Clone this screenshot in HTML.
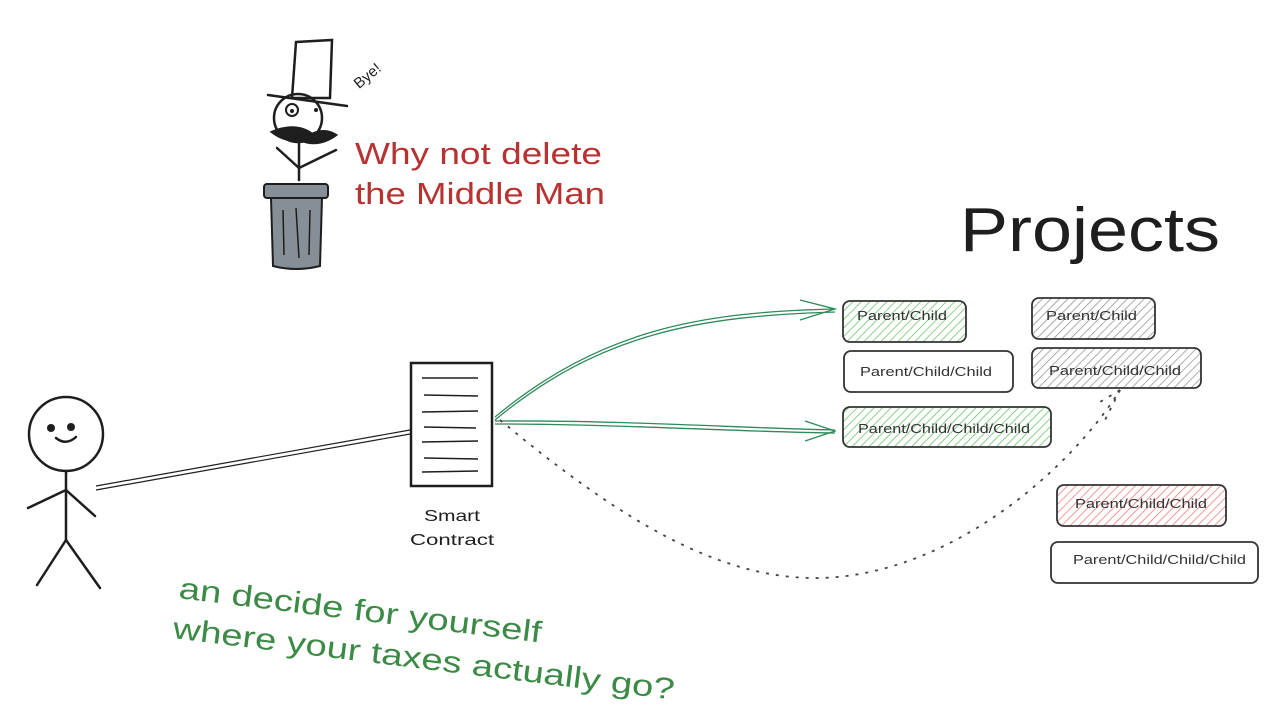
<!DOCTYPE html>
<html><head><style>
html,body{margin:0;padding:0;background:#fff;}
svg text{font-family:"Liberation Sans",sans-serif;}
</style></head><body>
<svg width="1278" height="716" viewBox="0 0 1278 716" xmlns="http://www.w3.org/2000/svg">
<defs>
<pattern id="hg" width="6" height="6" patternUnits="userSpaceOnUse" patternTransform="rotate(45)"><line x1="0" y1="0" x2="0" y2="6" stroke="#6cc46f" stroke-width="1.6"/></pattern>
<pattern id="hk" width="6" height="6" patternUnits="userSpaceOnUse" patternTransform="rotate(45)"><line x1="0" y1="0" x2="0" y2="6" stroke="#999" stroke-width="1.6"/></pattern>
<pattern id="hr" width="6" height="6" patternUnits="userSpaceOnUse" patternTransform="rotate(45)"><line x1="0" y1="0" x2="0" y2="6" stroke="#f08080" stroke-width="1.6"/></pattern>
</defs>
<g fill="none" stroke="#1e1e1e" stroke-width="2.5" stroke-linecap="round">
<path d="M296 42 L332 40 L330 98 L292 98 Z"/>
<line x1="268" y1="95" x2="347" y2="106"/>
<circle cx="298" cy="118" r="24"/>
<path d="M272 132 Q296 122 312 134 Q325 128 336 135 Q318 148 300 140 Q285 142 272 132Z" fill="#1e1e1e"/>
<line x1="299" y1="142" x2="299" y2="180"/>
<line x1="277" y1="148" x2="299" y2="168"/>
<line x1="299" y1="168" x2="336" y2="150"/>
</g>
<circle cx="292" cy="110" r="6" fill="none" stroke="#1e1e1e" stroke-width="2"/>
<circle cx="292" cy="111" r="2" fill="#1e1e1e"/>
<circle cx="316" cy="110" r="2" fill="#1e1e1e"/>
<rect x="264" y="184" width="64" height="14" rx="3" fill="#868e96" stroke="#1e1e1e" stroke-width="2"/>
<path d="M271 198 L322 198 L320 266 Q296 272 273 266 Z" fill="#868e96" stroke="#1e1e1e" stroke-width="2"/>
<g stroke="#1e1e1e" stroke-width="1.5"><line x1="283" y1="210" x2="284" y2="255"/><line x1="296" y1="208" x2="299" y2="258"/><line x1="310" y1="210" x2="309" y2="255"/></g>
<text x="352" y="86" font-size="15" fill="#1e1e1e" transform="rotate(-40 360 78)">Bye!</text>
<text x="355" y="164" font-size="31" fill="#b83232" textLength="247" lengthAdjust="spacingAndGlyphs">Why not delete</text>
<text x="355" y="204" font-size="31" fill="#b83232" textLength="250" lengthAdjust="spacingAndGlyphs">the Middle Man</text>
<text x="960" y="251" font-size="62" fill="#1e1e1e" textLength="260" lengthAdjust="spacingAndGlyphs">Projects</text>
<g fill="none" stroke="#1e1e1e" stroke-width="2.5" stroke-linecap="round">
<circle cx="66" cy="434" r="37"/>
<path d="M56 438 Q66 446 76 437"/>
<line x1="66" y1="471" x2="66" y2="540"/>
<line x1="66" y1="490" x2="28" y2="508"/>
<line x1="66" y1="490" x2="95" y2="516"/>
<line x1="66" y1="540" x2="37" y2="585"/>
<line x1="66" y1="540" x2="100" y2="588"/>
</g>
<circle cx="51" cy="428" r="4" fill="#1e1e1e"/><circle cx="71" cy="427" r="4" fill="#1e1e1e"/>
<line x1="96" y1="486" x2="410" y2="430" stroke="#1e1e1e" stroke-width="1.2"/>
<line x1="96" y1="490" x2="410" y2="434" stroke="#1e1e1e" stroke-width="1.2"/>
<rect x="411" y="363" width="81" height="123" fill="#fff" stroke="#1e1e1e" stroke-width="2.5"/>
<g stroke="#1e1e1e" stroke-width="1.5"><line x1="422" y1="378" x2="478" y2="378"/><line x1="424" y1="395" x2="478" y2="396"/><line x1="422" y1="412" x2="478" y2="411"/><line x1="424" y1="427" x2="476" y2="428"/><line x1="422" y1="442" x2="478" y2="441"/><line x1="424" y1="458" x2="478" y2="459"/><line x1="422" y1="472" x2="478" y2="471"/></g>
<text x="452" y="521" font-size="16" text-anchor="middle" fill="#1e1e1e" textLength="56" lengthAdjust="spacingAndGlyphs">Smart</text>
<text x="452" y="545" font-size="16" text-anchor="middle" fill="#1e1e1e" textLength="84" lengthAdjust="spacingAndGlyphs">Contract</text>
<g fill="none" stroke="#2f8a5a" stroke-width="1.3">
<path d="M495 417 C600 330 700 312 835 309"/><path d="M495 420 C600 333 700 316 835 312"/>
<path d="M800 300 L835 309 L800 320"/>
<path d="M495 421 C620 420 740 428 835 430"/><path d="M495 424 C620 424 740 432 835 433"/>
<path d="M805 421 L835 431 L805 441"/>
</g>
<path d="M500 420 C620 520 720 580 820 578 C950 575 1070 470 1120 390" fill="none" stroke="#444" stroke-width="1.8" stroke-dasharray="3 7"/>
<path d="M1120 390 L1095 405 M1120 390 L1105 420" fill="none" stroke="#444" stroke-width="1.8" stroke-dasharray="3 7"/>
<g stroke="#333" stroke-width="1.8">
<rect x="843" y="301" width="123" height="41" rx="7" fill="url(#hg)"/>
<rect x="844" y="351" width="169" height="41" rx="7" fill="#fff"/>
<rect x="843" y="407" width="208" height="40" rx="7" fill="url(#hg)"/>
<rect x="1032" y="298" width="123" height="41" rx="7" fill="url(#hk)"/>
<rect x="1032" y="348" width="169" height="40" rx="7" fill="url(#hk)"/>
<rect x="1057" y="485" width="169" height="41" rx="7" fill="url(#hr)"/>
<rect x="1051" y="542" width="207" height="41" rx="7" fill="#fff"/>
</g>
<g font-size="13" fill="#333" stroke="none" lengthAdjust="spacingAndGlyphs">
<text x="857" y="320" textLength="90" lengthAdjust="spacingAndGlyphs">Parent/Child</text>
<text x="860" y="376" textLength="132" lengthAdjust="spacingAndGlyphs">Parent/Child/Child</text>
<text x="858" y="433" textLength="172" lengthAdjust="spacingAndGlyphs">Parent/Child/Child/Child</text>
<text x="1046" y="320" textLength="91" lengthAdjust="spacingAndGlyphs">Parent/Child</text>
<text x="1049" y="375" textLength="132" lengthAdjust="spacingAndGlyphs">Parent/Child/Child</text>
<text x="1075" y="508" textLength="132" lengthAdjust="spacingAndGlyphs">Parent/Child/Child</text>
<text x="1073" y="564" textLength="173" lengthAdjust="spacingAndGlyphs">Parent/Child/Child/Child</text>
</g>
<g fill="#3b8a45" font-size="30">
<text x="178" y="598" transform="rotate(7 178 598)" textLength="365" lengthAdjust="spacingAndGlyphs">an decide for yourself</text>
<text x="172" y="638" transform="rotate(7 172 638)" textLength="505" lengthAdjust="spacingAndGlyphs">where your taxes actually go?</text>
</g>
</svg>
</body></html>
